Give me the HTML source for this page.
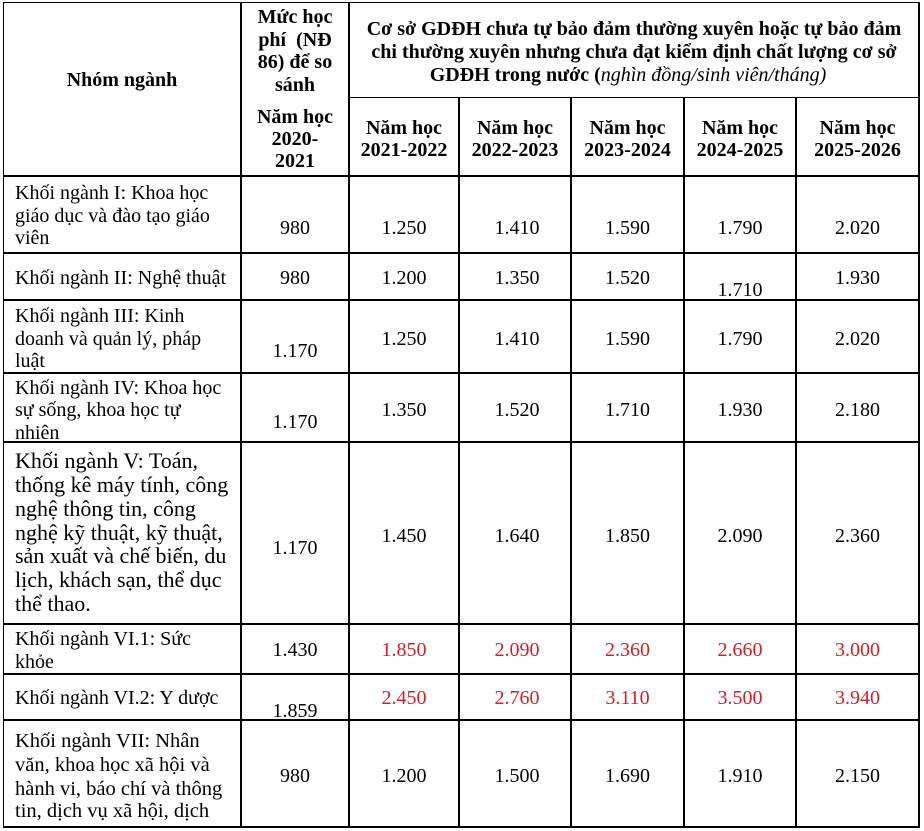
<!DOCTYPE html>
<html><head><meta charset="utf-8">
<style>
html,body{margin:0;padding:0;background:#fff;}
body{width:924px;height:831px;position:relative;overflow:hidden;}
.h{position:absolute;height:1.8px;background:#000;}
.v{position:absolute;width:1.8px;background:#000;}
.t{position:absolute;font-family:"Liberation Serif","Noto Serif CJK SC",serif;font-size:20px;line-height:20px;white-space:nowrap;color:#000;}
.b{font-weight:bold;}
.c{text-align:center;}
.L{left:15px;}
.big{font-size:22px;line-height:22px;}
.r7{font-size:20.5px;line-height:20.5px;}
.red{color:#d0202a;}
.c2{left:241px;width:108px;text-align:center;}
.c3{left:349px;width:110px;text-align:center;}
.c4{left:461px;width:112px;text-align:center;}
.c5{left:571px;width:113px;text-align:center;}
.c6{left:684px;width:112px;text-align:center;}
.c7{left:796px;width:123px;text-align:center;}
.hd{left:349px;width:570px;text-align:center;}
</style></head><body>

<!-- grid lines -->
<div class="h" style="left:2.5px;width:917.5px;top:1.5px"></div>
<div class="h" style="left:348px;width:572px;top:96.5px"></div>
<div class="h" style="left:2.5px;width:917.5px;top:175px"></div>
<div class="h" style="left:2.5px;width:917.5px;top:252px"></div>
<div class="h" style="left:2.5px;width:917.5px;top:299px"></div>
<div class="h" style="left:2.5px;width:917.5px;top:372px"></div>
<div class="h" style="left:2.5px;width:917.5px;top:441px"></div>
<div class="h" style="left:2.5px;width:917.5px;top:623px"></div>
<div class="h" style="left:2.5px;width:917.5px;top:673px"></div>
<div class="h" style="left:2.5px;width:917.5px;top:719px"></div>
<div class="h" style="left:2.5px;width:917.5px;top:826px"></div>

<div class="v" style="left:2.5px;top:1.5px;height:826.5px"></div>
<div class="v" style="left:240px;top:1.5px;height:826.5px"></div>
<div class="v" style="left:348px;top:1.5px;height:826.5px"></div>
<div class="v" style="left:458px;top:96.5px;height:731.5px"></div>
<div class="v" style="left:570px;top:96.5px;height:731.5px"></div>
<div class="v" style="left:683px;top:96.5px;height:731.5px"></div>
<div class="v" style="left:795px;top:96.5px;height:731.5px"></div>
<div class="v" style="left:918px;top:1.5px;height:826.5px"></div>

<!-- header -->
<div class="t b" style="left:3px;width:238px;text-align:center;top:70px">Nhóm ngành</div>

<div class="t b c2" style="top:7px">Mức học</div>
<div class="t b c2" style="top:29.5px">phí &nbsp;(NĐ</div>
<div class="t b c2" style="top:52px">86) để so</div>
<div class="t b c2" style="top:74.5px">sánh</div>

<div class="t b hd" style="top:19px">Cơ sở GDĐH chưa tự bảo đảm thường xuyên hoặc tự bảo đảm</div>
<div class="t b hd" style="top:42px">chi thường xuyên nhưng chưa đạt kiểm định chất lượng cơ sở</div>
<div class="t b hd" style="top:65px;left:343px">GDĐH trong nước (<i style="font-weight:normal">nghìn đồng/sinh viên/tháng)</i></div>

<div class="t b c2" style="top:107px">Năm học</div>
<div class="t b c2" style="top:129px">2020-</div>
<div class="t b c2" style="top:151px">2021</div>

<div class="t b c3" style="top:118px">Năm học</div>
<div class="t b c3" style="top:140px">2021-2022</div>
<div class="t b c4" style="top:118px;left:459px">Năm học</div>
<div class="t b c4" style="top:140px;left:459px">2022-2023</div>
<div class="t b c5" style="top:118px">Năm học</div>
<div class="t b c5" style="top:140px">2023-2024</div>
<div class="t b c6" style="top:118px">Năm học</div>
<div class="t b c6" style="top:140px">2024-2025</div>
<div class="t b c7" style="top:118px">Năm học</div>
<div class="t b c7" style="top:140px">2025-2026</div>

<!-- Row I -->
<div class="t L" style="top:183px">Khối ngành I: Khoa học</div>
<div class="t L" style="top:206px">giáo dục và đào tạo giáo</div>
<div class="t L" style="top:228px">viên</div>
<div class="t c2" style="top:218px">980</div>
<div class="t c3" style="top:218px">1.250</div>
<div class="t c4" style="top:218px">1.410</div>
<div class="t c5" style="top:218px">1.590</div>
<div class="t c6" style="top:218px">1.790</div>
<div class="t c7" style="top:218px">2.020</div>

<!-- Row II -->
<div class="t L" style="top:268px">Khối ngành II: Nghệ thuật</div>
<div class="t c2" style="top:268px">980</div>
<div class="t c3" style="top:268px">1.200</div>
<div class="t c4" style="top:268px">1.350</div>
<div class="t c5" style="top:268px">1.520</div>
<div class="t c6" style="top:280px">1.710</div>
<div class="t c7" style="top:268px">1.930</div>

<!-- Row III -->
<div class="t L" style="top:306px">Khối ngành III: Kinh</div>
<div class="t L" style="top:329px">doanh và quản lý, pháp</div>
<div class="t L" style="top:351px">luật</div>
<div class="t c2" style="top:341px">1.170</div>
<div class="t c3" style="top:329px">1.250</div>
<div class="t c4" style="top:329px">1.410</div>
<div class="t c5" style="top:329px">1.590</div>
<div class="t c6" style="top:329px">1.790</div>
<div class="t c7" style="top:329px">2.020</div>

<!-- Row IV -->
<div class="t L" style="top:378px">Khối ngành IV: Khoa học</div>
<div class="t L" style="top:400px">sự sống, khoa học tự</div>
<div class="t L" style="top:423px">nhiên</div>
<div class="t c2" style="top:412px">1.170</div>
<div class="t c3" style="top:400px">1.350</div>
<div class="t c4" style="top:400px">1.520</div>
<div class="t c5" style="top:400px">1.710</div>
<div class="t c6" style="top:400px">1.930</div>
<div class="t c7" style="top:400px">2.180</div>

<!-- Row V -->
<div class="t L big" style="top:450px">Khối ngành V: Toán,</div>
<div class="t L big" style="top:474px">thống kê máy tính, công</div>
<div class="t L big" style="top:498px">nghệ thông tin, công</div>
<div class="t L big" style="top:522px">nghệ kỹ thuật, kỹ thuật,</div>
<div class="t L big" style="top:545px">sản xuất và chế biến, du</div>
<div class="t L big" style="top:569px">lịch, khách sạn, thể dục</div>
<div class="t L big" style="top:593px">thể thao.</div>
<div class="t c2" style="top:538px">1.170</div>
<div class="t c3" style="top:526px">1.450</div>
<div class="t c4" style="top:526px">1.640</div>
<div class="t c5" style="top:526px">1.850</div>
<div class="t c6" style="top:526px">2.090</div>
<div class="t c7" style="top:526px">2.360</div>

<!-- Row VI.1 -->
<div class="t L" style="top:629px">Khối ngành VI.1: Sức</div>
<div class="t L" style="top:652px">khỏe</div>
<div class="t c2" style="top:640px">1.430</div>
<div class="t c3 red" style="top:640px">1.850</div>
<div class="t c4 red" style="top:640px">2.090</div>
<div class="t c5 red" style="top:640px">2.360</div>
<div class="t c6 red" style="top:640px">2.660</div>
<div class="t c7 red" style="top:640px">3.000</div>

<!-- Row VI.2 -->
<div class="t L" style="top:688px">Khối ngành VI.2: Y dược</div>
<div class="t c2" style="top:701px">1.859</div>
<div class="t c3 red" style="top:688px">2.450</div>
<div class="t c4 red" style="top:688px">2.760</div>
<div class="t c5 red" style="top:688px">3.110</div>
<div class="t c6 red" style="top:688px">3.500</div>
<div class="t c7 red" style="top:688px">3.940</div>

<!-- Row VII -->
<div class="t L r7" style="top:731px">Khối ngành VII: Nhân</div>
<div class="t L r7" style="top:755px">văn, khoa học xã hội và</div>
<div class="t L r7" style="top:779px">hành vi, báo chí và thông</div>
<div class="t L r7" style="top:801px">tin, dịch vụ xã hội, dịch</div>
<div class="t c2" style="top:766px">980</div>
<div class="t c3" style="top:766px">1.200</div>
<div class="t c4" style="top:766px">1.500</div>
<div class="t c5" style="top:766px">1.690</div>
<div class="t c6" style="top:766px">1.910</div>
<div class="t c7" style="top:766px">2.150</div>

</body></html>
